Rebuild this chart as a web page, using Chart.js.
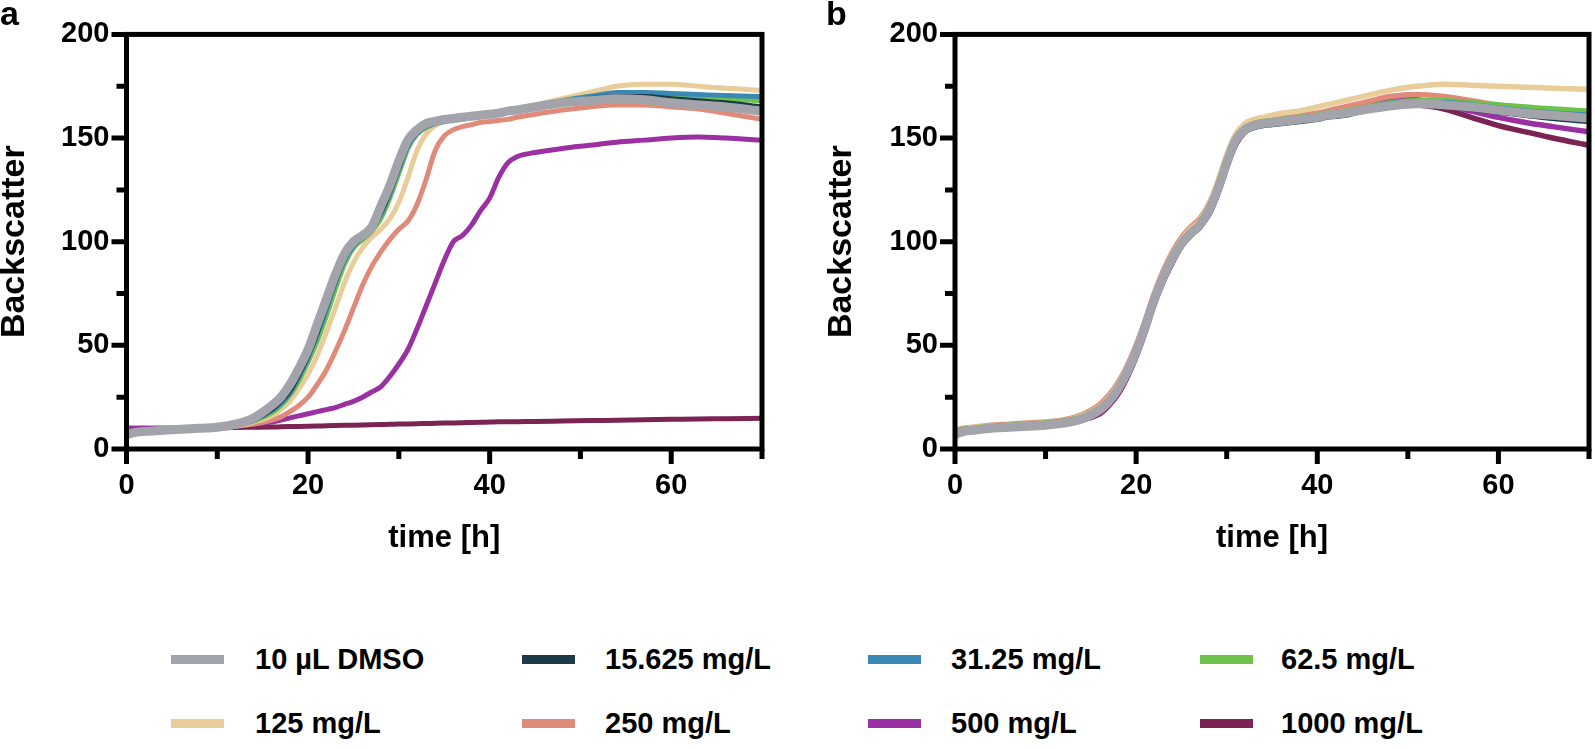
<!DOCTYPE html>
<html><head><meta charset="utf-8">
<script src="https://cdn.jsdelivr.net/npm/chart.js@4.4.0/dist/chart.umd.min.js"></script>
<style>
html,body{margin:0;padding:0;background:#fff;}
#wrap{position:relative;width:1595px;height:749px;overflow:hidden;font-family:'Liberation Sans',Arial,sans-serif;font-weight:bold;color:#000;}
canvas{position:absolute;top:0;}
#ca{left:0;} #cb{left:800px;}
.plabel{position:absolute;font-size:34px;line-height:34px;top:-4px;}
.sw{position:absolute;width:53px;height:9px;}
.lt{position:absolute;font-size:29px;line-height:40px;white-space:nowrap;}
</style></head>
<body><div id="wrap">
<canvas id="ca" width="800" height="600"></canvas>
<canvas id="cb" width="795" height="600"></canvas>
<div class="plabel" style="left:0px">a</div>
<div class="plabel" style="left:826px">b</div>
<div id="legend"></div>
</div>
<script>
// ---------- DATA ----------
const times = [0,1,2,4,6,8,10,12,14,16,17,18,19,20,21,22,23,24,25,26,27,28,29,30,31,32,33,34,35,36,37,38,39,40,41,42,43,45,48,51,54,57,60,63,66,70];

const seriesNames = ['10 µL DMSO','15.625 mg/L','31.25 mg/L','62.5 mg/L','125 mg/L','250 mg/L','500 mg/L','1000 mg/L'];
const seriesColors = ['#a3a3ab','#1d3a47','#3a89b5','#6cc24a','#e8cc9a','#e08a7a','#9b30a3','#7b2453'];

const xMajorTicks = [0,20,40,60];
const xMinorTicks = [10,30,50,70];
const yMajorTicks = [0,50,100,150,200];
const yMinorTicks = [25,75,125,175];

// Panel a
const a_dmso = [7,8,8.5,9,9.5,10,10.5,12,15,21,25,31,39,48,60,72,84,94,100,103,107,117,127,139,149,154,157,158,159,159.5,160,160.5,161,161.5,162,163,163.5,165,167,168,169,168.5,167,166,165,163];
const a_15625 = [7.5,8,8.5,9,9.5,10,10.5,11.5,14,19,23,28,36,45,56,69,81,92,99,102,106,114,124,136,147,153,156,157.5,158.5,159,159.5,160,160.5,161,162,162.5,163,165,167,169,170,170,169,168,167,165];
const a_3125 = [7.5,8,8.5,9,9.5,10,10.5,11.5,14,18.5,22,27,35,44,55,67,80,91,98,102,106,113,123,135,146,152,155.5,157,158,159,159.5,160,160.5,161,162,162.5,163,165,168,170,172,172,171.5,171,170.5,170];
const a_625 = [8,8.5,9,9,9.5,10,10.5,11.5,13.5,17.5,21,26,33,42,52,64,77,89,97,101,105,111,121,133,145,152,155,157,158,158.5,159,160,160.5,161,162,162.5,163,165,168,170,171,171,170,169.5,169,168];
const a_125 = [8,8.5,9,9,9.5,10,10.5,11,13,16,19,23,29,36,45,56,68,80,90,97,102,106,111,119,131,144,152,156,158,159,160,160.5,161,162,162.5,163,164,166,169,172,175,176,176,175,174,173];
const a_250 = [8,8.5,9,9,9.5,10,10.5,11,12,14,15.5,18,21,25,31,38,47,57,68,79,88,95,101,106,110,118,130,144,151,154,155.5,156.5,157.5,158,158.5,159,160,161.5,163.5,165,166,166,165,164,162,159];
const a_500 = [10,10,10,10,10,10,10.5,11,12,13,14,15,16,17,18,19,20,21.5,23,25,27.5,30,35,41,48,58,69,80,91,100,103,108,115,121,131,138,141,143,145,146.5,148,149,150,150.5,150,149];
const a_1000 = [10,10,10,10,10,10,10.2,10.4,10.5,10.6,10.7,10.8,10.9,11,11.1,11.2,11.3,11.4,11.5,11.6,11.7,11.8,11.9,12,12.1,12.2,12.3,12.4,12.5,12.6,12.7,12.8,12.9,13,13.1,13.1,13.2,13.3,13.5,13.7,13.9,14.1,14.3,14.5,14.6,14.8];

// Panel b
const b_dmso = [7,8.5,9,10,10.5,11,11.5,12.5,14.5,19,23,29,37,47,59,72,83,92,99,104,108,115,125,138,149,154,156,157,157.5,158,158.5,159,159.5,160,161,161.5,162,163.5,165.5,166.5,166,165,163.5,162,161,159.5];
const b_15625 = [7.5,8.5,9,10,10.5,11,11.5,12.5,14.5,18.5,22.5,28.5,36.5,46.5,58,71,82,91,98,103,107,114,124,137,148,153,155,156,156.5,157,157.5,158,158.5,159,160,160.5,161,163,165,166,165.5,164,162.5,161,159.5,158];
const b_3125 = [8,9,9.5,10.5,11,11.5,12,13,15,19.5,23.5,29.5,37.5,47.5,59.5,72,83,92,99,104,108,115,125,138,149,154,156,157,157.5,158,158.5,159,159.5,160,161,162,162.5,164,166.5,167,167,166,164.5,163,162,161];
const b_625 = [8.5,9.5,10,11,11.5,12,12.5,13.5,15.5,20,24,30,38,48,60,73,84,93,100,105,109,116,126,139,150,155,157,158,158.5,159,159.5,160,160.5,161,162,162.5,163,164.5,167,168,168,167,166,165,164,163];
const b_125 = [8.5,9.5,10.5,11,11.5,12,12.5,13.5,16,20.5,25,31,39,49,61,74,85,94,101,106,110,118,129,142,152,157,159,160,161,162,162.5,163,164,165,166,167,168,170,173,175,176,175.5,175,174.5,174,173.5];
const b_250 = [9,10,10.5,11.5,12,12.5,13,14,16.5,21.5,26,32,40,50,62,75,86,95,102,107,111,118,128,140,151,155.5,157.5,158.5,159,159.5,160,161,161.5,162,163,164,165,167,170,171,170,168,166,164.5,163,161];
const b_500 = [8,9,9.5,10.5,11,11.5,12,12.5,14,17.5,21.5,27,35,45,57,70,81,90,98,103,107,113,123,136,147,153,155.5,157,157.5,158,158.5,159,160,160.5,161.5,162.5,163.5,166,169,168.5,166,163,160,157.5,155.5,153];
const b_1000 = [8,9,9.5,10.5,11,11.5,12,12.5,14,17,21,26.5,34.5,44.5,56.5,70,81,90,98,103,107,113,123,136,147,153,155.5,157,157.5,158,158.5,159,159.5,160,161,162,163,165,167,166,164,160,156,153,150,146.5];

const panelA = [a_dmso,a_15625,a_3125,a_625,a_125,a_250,a_500,a_1000];
const panelB = [b_dmso,b_15625,b_3125,b_625,b_125,b_250,b_500,b_1000];

// ---------- RENDER ----------
const FONT = "'Liberation Sans', Arial, sans-serif";
const tickFont = {family: FONT, size: 29, weight: 'bold', lineHeight: 1.2};
const titleFont = {family: FONT, size: 34, weight: 'bold', lineHeight: 0.85};
const xTitleFont = {family: FONT, size: 31, weight: 'bold', lineHeight: 1.2};

const framePlugin = {
  id: 'frame',
  afterDatasetsDraw(chart) {
    const {ctx, chartArea: a, scales: {x, y}} = chart;
    ctx.save();
    ctx.strokeStyle = '#000';
    ctx.lineWidth = 5;
    ctx.lineCap = 'butt';
    ctx.strokeRect(a.left, a.top, a.right - a.left, a.bottom - a.top);
    ctx.beginPath();
    xMajorTicks.forEach(v => { const p = x.getPixelForValue(v); ctx.moveTo(p, a.bottom); ctx.lineTo(p, a.bottom + 15); });
    xMinorTicks.forEach(v => { const p = x.getPixelForValue(v); ctx.moveTo(p, a.bottom); ctx.lineTo(p, a.bottom + 10); });
    yMajorTicks.forEach(v => { const p = y.getPixelForValue(v); ctx.moveTo(a.left, p); ctx.lineTo(a.left - 15, p); });
    yMinorTicks.forEach(v => { const p = y.getPixelForValue(v); ctx.moveTo(a.left, p); ctx.lineTo(a.left - 10, p); });
    ctx.stroke();
    ctx.restore();
  }
};

function makePanel(id, values, geo) {
  const datasets = values.map((vals, k) => ({
    label: seriesNames[k],
    data: times.map((t, i) => ({x: t, y: vals[i]})),
    borderColor: seriesColors[k],
    backgroundColor: seriesColors[k],
    borderWidth: k === 0 ? geo.wGray : geo.wOther,
    pointRadius: 0,
    fill: false,
    cubicInterpolationMode: 'monotone'
  }));
  return new Chart(document.getElementById(id), {
    type: 'line',
    data: {datasets},
    options: {
      responsive: false, animation: false, devicePixelRatio: 1,
      layout: {padding: {left: 0, right: geo.padRight, top: 28, bottom: 0}},
      plugins: {legend: {display: false}, tooltip: {enabled: false}, title: {display: false}},
      elements: {point: {radius: 0}, line: {borderCapStyle: 'round', borderJoinStyle: 'round'}},
      scales: {
        x: {
          type: 'linear', min: 0, max: 70,
          afterFit(s) { s.height = 151; },
          afterBuildTicks(s) { s.ticks = xMajorTicks.map(v => ({value: v})); },
          grid: {display: false, drawTicks: false}, border: {display: false},
          ticks: {padding: 20, color: '#000', font: tickFont, maxRotation: 0, autoSkip: false},
          title: {display: true, text: 'time [h]', color: '#000', font: xTitleFont, padding: {top: 0, bottom: 43}}
        },
        y: {
          type: 'linear', min: 0, max: 200,
          afterFit(s) { s.width = geo.yWidth; },
          afterBuildTicks(s) { s.ticks = yMajorTicks.map(v => ({value: v})); },
          grid: {display: false, drawTicks: false}, border: {display: false},
          ticks: {padding: 17, color: '#000', font: tickFont, autoSkip: false},
          title: {display: true, text: 'Backscatter', color: '#000', font: titleFont, padding: {top: geo.yTitlePad, bottom: 0}}
        }
      }
    },
    plugins: [framePlugin]
  });
}

makePanel('ca', panelA, {padRight: 38, yWidth: 126.5, yTitlePad: 0, wGray: 9, wOther: 5});
makePanel('cb', panelB, {padRight: 6, yWidth: 155, yTitlePad: 27.5, wGray: 9, wOther: 5.5});

// ---------- LEGEND (HTML) ----------
const legendCols = [[171,255],[522,605],[868,951],[1200,1281]];
const legendRows = [659,723];
const leg = document.getElementById('legend');
seriesNames.forEach((name, k) => {
  const col = legendCols[k % 4], rowY = legendRows[Math.floor(k / 4)];
  const sw = document.createElement('div');
  sw.className = 'sw';
  sw.style.left = col[0] + 'px';
  sw.style.top = (rowY - 4.5) + 'px';
  sw.style.background = seriesColors[k];
  leg.appendChild(sw);
  const t = document.createElement('div');
  t.className = 'lt';
  t.style.left = col[1] + 'px';
  t.style.top = (rowY - 20) + 'px';
  t.textContent = name;
  leg.appendChild(t);
});
</script>
</body></html>
